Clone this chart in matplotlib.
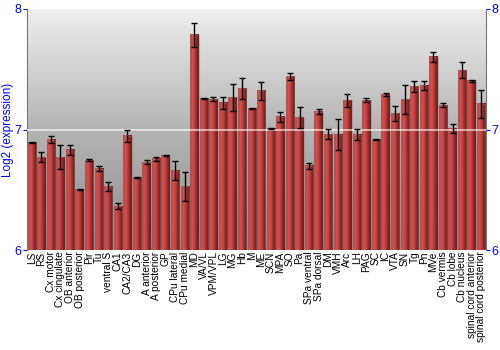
import numpy as np
import matplotlib
matplotlib.use("Agg")
import matplotlib.pyplot as plt
from matplotlib.colors import LinearSegmentedColormap

plt.rcParams["font.family"] = ["Liberation Sans", "DejaVu Sans"]

regions = ["LS", "RS", "Cx motor", "Cx cingulate", "OB anterior", "OB posterior",
           "Pir", "Tu", "ventral S", "CA1", "CA2/CA3", "DG", "A anterior",
           "A posterior", "GP", "CPu lateral", "CPu medial", "MD", "VA/VL",
           "VPM/VPL", "LG", "MG", "Hb", "M", "ME", "SCN", "MPA", "SO", "Pa",
           "SPa ventral", "SPa dorsal", "DM", "VMH", "Arc", "LH", "PAG", "SC",
           "IC", "VTA", "SN", "Tg", "Pn", "MVe", "Cb vermis", "Cb lobe",
           "Cb nucleus", "spinal cord anterior", "spinal cord posterior"]
expression = [6.892, 6.77, 6.917, 6.77, 6.83, 6.506, 6.745, 6.675, 6.525, 6.364,
              6.947, 6.603, 6.73, 6.756, 6.783, 6.658, 6.528, 7.786, 7.258,
              7.25, 7.22, 7.267, 7.342, 7.172, 7.32, 7.008, 7.105, 7.442, 7.1,
              6.7, 7.147, 6.962, 6.958, 7.242, 6.956, 7.244, 6.914, 7.289, 7.133,
              7.25, 7.358, 7.364, 7.603, 7.203, 7.008, 7.492, 7.403, 7.214]
error = [0.005, 0.04, 0.03, 0.1, 0.04, 0.004, 0.01, 0.02, 0.036, 0.027,
         0.05, 0.005, 0.02, 0.015, 0.006, 0.08, 0.12, 0.1, 0.005, 0.017,
         0.05, 0.11, 0.086, 0.005, 0.077, 0.005, 0.04, 0.03, 0.086, 0.025,
         0.02, 0.04, 0.13, 0.055, 0.047, 0.015, 0.005, 0.01, 0.06, 0.12,
         0.043, 0.04, 0.04, 0.017, 0.04, 0.065, 0.006, 0.117]

fig = plt.figure(figsize=(5, 3.5), dpi=100)
ax = fig.add_axes([0.054, 0.2857, 0.918, 0.6886])

n = len(regions)
ymin, ymax = 6, 8
ax.set_xlim(-0.5, n - 0.5)
ax.set_ylim(ymin, ymax)

# gray vertical gradient background
bg = LinearSegmentedColormap.from_list("bg", ["#8e8e8e", "#b4b4b4", "#efefef"])
ax.imshow(np.linspace(0, 1, 256).reshape(-1, 1), cmap=bg, aspect="auto",
          extent=[-0.5, n - 0.5, ymin, ymax], origin="lower", zorder=0)

# bars with horizontal red gradient
barcm = LinearSegmentedColormap.from_list("bar", ["#b83a3a", "#d45252", "#bf4040", "#922626", "#721a1a"])
grad = np.linspace(0, 1, 64).reshape(1, -1)
w = 0.88
for i, v in enumerate(expression):
    ax.imshow(grad, cmap=barcm, aspect="auto",
              extent=[i - w / 2, i + w / 2, ymin, v], zorder=2)
ax.bar(range(n), np.array(expression) - ymin, bottom=ymin, width=w,
       color="none", edgecolor=(0.5, 0.5, 0.5, 0.4), linewidth=0.8, zorder=3)
ax.errorbar(range(n), expression, yerr=error, fmt="none", ecolor="black",
            elinewidth=1, capsize=2, capthick=1, zorder=4)

ax.axhline(7, color="white", lw=1.2, alpha=0.7, zorder=3.5)

ax.set_xticks(range(n))
ax.set_xticklabels(regions, rotation=90, fontsize=7.3)
ax.tick_params(axis="x", length=0, pad=1)
ax.set_yticks([6, 7, 8])
ax.tick_params(axis="y", colors="blue", labelsize=9, length=3, width=0.8, pad=1,
               left=True, right=True, labelleft=True, labelright=True)
for t in ax.get_yticklines():
    t.set_color("#555555")
ax.set_ylabel("Log2 (expression)", color="blue", fontsize=8.5, va="center")
ax.yaxis.set_label_coords(-0.041, 0.5)

for side in ["top", "bottom"]:
    ax.spines[side].set_visible(False)
for side in ["left", "right"]:
    ax.spines[side].set_color("#777777")

fig.savefig("out.png", dpi=100)
